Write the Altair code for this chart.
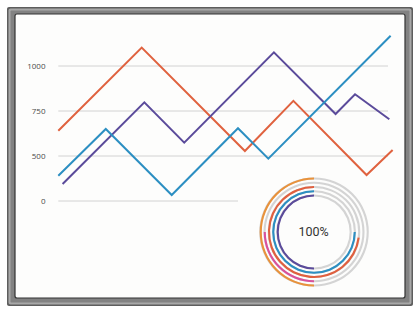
import altair as alt
import pandas as pd

# ---- line chart data (x in 0-100 position units, y in chart units) ----
series_names = ["Orange", "Purple", "Blue"]
orange_x = [0, 25.3, 56.6, 71.3, 93.5, 101.4]
orange_y = [640, 1102, 528, 806, 289, 533]
purple_x = [1.3, 26.1, 38.2, 65.4, 84.1, 90.0, 100.4]
purple_y = [189, 798, 574, 1076, 733, 843, 704]
blue_x = [0, 14.4, 34.4, 54.5, 63.7, 100.8]
blue_y = [281, 650, 67, 654, 470, 1168]
line_colors = ["#E0623F", "#5B4B9B", "#2C8FC2"]

# ---- gridlines / tick labels ----
grid_values = [1000, 750, 500, 0]
grid_end = [100, 100, 100, 54.5]

# ---- gauge rings ----
ring_ids = [1, 2, 3, 4, 5]
ring_colors = ["#E9923B", "#D9519C", "#E0603F", "#2C8FC2", "#5B4B9B"]
ring_start = [50, 50, 27, 25, 50]
ring_end = [100, 75, 100, 100, 100]
gauge_label = "100%"

rows = []
for name, xs, ys in [("Orange", orange_x, orange_y),
                     ("Purple", purple_x, purple_y),
                     ("Blue", blue_x, blue_y)]:
    for xv, yv in zip(xs, ys):
        rows.append({"series": name, "x": xv, "value": yv})
lines_df = pd.DataFrame(rows)

grid_df = pd.DataFrame({"value": grid_values,
                        "start": [0] * len(grid_values),
                        "end": grid_end})

ring_bg_df = pd.DataFrame({"ring": ring_ids, "start": [0] * 5, "end": [100] * 5})
ring_df = pd.DataFrame({"ring": ring_ids, "start": ring_start,
                        "end": ring_end, "color": ring_colors})

xscale = alt.Scale(domain=[0, 100], range=[58.3, 388], nice=False, zero=False)
yscale = alt.Scale(domain=[0, 500, 750, 1000], range=[201, 156, 111, 66],
                   nice=False, zero=False)
yaxis = alt.Axis(values=grid_values, grid=False, domain=False, ticks=False,
                 offset=-47, labelPadding=2, labelFontSize=8, zindex=2, format="d",
                 labelFont="Open Sans", labelColor="#4a4a4a", title=None)

one = pd.DataFrame({"a": [0]})

def rect(x1, y1, x2, y2, fill, stroke=None, sw=0, cr=0):
    kw = dict(fill=fill, cornerRadius=cr)
    if stroke:
        kw.update(stroke=stroke, strokeWidth=sw)
    return alt.Chart(one).mark_rect(**kw).encode(
        x=alt.value(x1), x2=alt.value(x2), y=alt.value(y1), y2=alt.value(y2))

frame = [
    rect(7, 7, 413, 306, "#5e5e5e", cr=2),
    rect(8.5, 8.5, 411.5, 304.5, "#a8a8a8", cr=2),
    rect(10.5, 10.5, 409.5, 302.5, "#828282", cr=1),
    rect(15, 14, 405, 298, "#fdfdfc", stroke="#333333", sw=1.2, cr=2),
]

grid = alt.Chart(grid_df).mark_rule(color="#d2d2d2", strokeWidth=1).encode(
    x=alt.X("start:Q", scale=xscale, axis=None),
    x2="end:Q",
    y=alt.Y("value:Q", scale=yscale, axis=yaxis),
)

lines = alt.Chart(lines_df).mark_line(strokeWidth=2).encode(
    x=alt.X("x:Q", scale=xscale, axis=None),
    y=alt.Y("value:Q", scale=yscale, axis=yaxis),
    color=alt.Color("series:N", scale=alt.Scale(domain=series_names, range=line_colors),
                    legend=None),
    detail="series:N",
)

theta_scale = alt.Scale(domain=[0, 100], range=[0, 6.283185307], nice=False, zero=False)
rad_scale = alt.Scale(type="linear", domain=[1, 5], range=[53.5, 36.5], nice=False, zero=False)

def rings(df, colored):
    base = alt.Chart(df).transform_calculate(
        r0="datum.ring - 0.25", r1="datum.ring + 0.25")
    enc = dict(
        theta=alt.Theta("start:Q", scale=theta_scale, stack=None),
        theta2="end:Q",
        radius=alt.Radius("r0:Q", scale=rad_scale),
        radius2="r1:Q",
        x=alt.value(314), y=alt.value(232),
    )
    if colored:
        enc["color"] = alt.Color("color:N", scale=None)
        return base.mark_arc().encode(**enc)
    return base.mark_arc(color="#d4d4d4").encode(**enc)

gauge_text = alt.Chart(pd.DataFrame({"t": [gauge_label]})).mark_text(
    font="Roboto", fontSize=12.5, color="#333333", align="center", baseline="middle"
).encode(text="t:N", x=alt.value(313.5), y=alt.value(232))

chart = alt.layer(
    *frame, grid, lines, rings(ring_bg_df, False), rings(ring_df, True), gauge_text
).properties(
    width=420, height=312, padding=0, autosize=alt.AutoSizeParams(type="none"),
    background="white",
).configure_view(stroke=None)

chart.save("out.html", embed_options={"renderer": "svg", "actions": False})
